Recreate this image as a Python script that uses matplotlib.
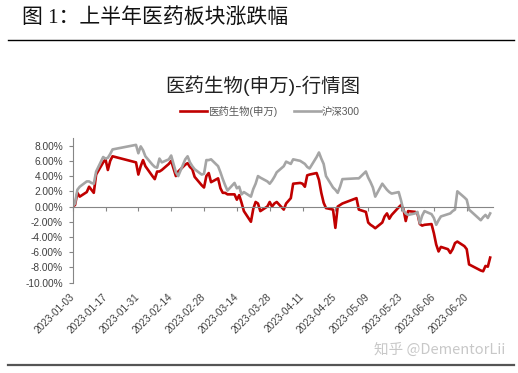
import numpy as np
import matplotlib
matplotlib.use("Agg")
import matplotlib.pyplot as plt
from matplotlib.lines import Line2D

plt.rcParams['font.family'] = ['Liberation Sans', 'Noto Sans CJK SC', 'DejaVu Sans']

# trading days of H1 2023 and cumulative change (%) since 2023-01-03
dates = [
    "2023-01-03", "2023-01-04", "2023-01-05", "2023-01-06", "2023-01-09", "2023-01-10",
    "2023-01-11", "2023-01-12", "2023-01-13", "2023-01-16", "2023-01-17", "2023-01-18",
    "2023-01-19", "2023-01-20", "2023-01-30", "2023-01-31", "2023-02-01", "2023-02-02",
    "2023-02-03", "2023-02-06", "2023-02-07", "2023-02-08", "2023-02-09", "2023-02-10",
    "2023-02-13", "2023-02-14", "2023-02-15", "2023-02-16", "2023-02-17", "2023-02-20",
    "2023-02-21", "2023-02-22", "2023-02-23", "2023-02-24", "2023-02-27", "2023-02-28",
    "2023-03-01", "2023-03-02", "2023-03-03", "2023-03-06", "2023-03-07", "2023-03-08",
    "2023-03-09", "2023-03-10", "2023-03-13", "2023-03-14", "2023-03-15", "2023-03-16",
    "2023-03-17", "2023-03-20", "2023-03-21", "2023-03-22", "2023-03-23", "2023-03-24",
    "2023-03-27", "2023-03-28", "2023-03-29", "2023-03-30", "2023-03-31", "2023-04-03",
    "2023-04-04", "2023-04-06", "2023-04-07", "2023-04-10", "2023-04-11", "2023-04-12",
    "2023-04-13", "2023-04-14", "2023-04-17", "2023-04-18", "2023-04-19", "2023-04-20",
    "2023-04-21", "2023-04-24", "2023-04-25", "2023-04-26", "2023-04-27", "2023-04-28",
    "2023-05-04", "2023-05-05", "2023-05-08", "2023-05-09", "2023-05-10", "2023-05-11",
    "2023-05-12", "2023-05-15", "2023-05-16", "2023-05-17", "2023-05-18", "2023-05-19",
    "2023-05-22", "2023-05-23", "2023-05-24", "2023-05-25", "2023-05-26", "2023-05-29",
    "2023-05-30", "2023-05-31", "2023-06-01", "2023-06-02", "2023-06-05", "2023-06-06",
    "2023-06-07", "2023-06-08", "2023-06-09", "2023-06-12", "2023-06-13", "2023-06-14",
    "2023-06-15", "2023-06-16", "2023-06-19", "2023-06-20", "2023-06-21", "2023-06-26",
    "2023-06-27", "2023-06-28", "2023-06-29", "2023-06-30",
]

pharma = [
    0.0, 0.2, 1.8, 1.3, 1.9, 2.6, 2.2, 1.8, 4.2, 5.8, 6.2, 4.8,
    6.0, 6.6, 5.8, 4.2, 5.3, 6.1, 5.3, 4.0, 3.6, 4.6, 4.6, 4.8,
    5.6, 6.0, 5.0, 4.0, 4.6, 5.5, 5.7, 5.2, 4.9, 3.9, 2.8, 2.5,
    4.0, 4.4, 3.2, 3.7, 2.4, 1.8, 1.8, 1.6, 1.6, 0.9, 1.5, 0.5,
    -0.6, -2.0, -0.3, 0.6, 0.4, -0.6, 0.0, 0.6, 0.0, 0.4, 0.6, -0.4,
    0.4, 1.1, 3.0, 3.1, 3.0, 2.6, 4.1, 4.2, 4.4, 3.5, 1.8, 0.5,
    -0.2, -0.4, -2.8, 0.0, 0.2, 0.4, 1.1, -0.4, -0.7, -2.1, -2.4, -2.6,
    -2.85, -2.1, -1.3, -0.9, -1.6, -1.1, -0.1, 0.2, -0.3, -1.9, -0.6, -0.7,
    -0.9, -2.3, -2.5, -2.4, -2.3, -3.5, -5.0, -5.9, -5.3, -5.6, -6.1, -5.6,
    -4.8, -4.6, -5.2, -5.6, -7.6, -8.4, -8.5, -7.8, -7.9, -6.7,
]

hs300 = [
    0.0, 0.4, 2.2, 2.6, 3.3, 3.3, 3.1, 3.0, 4.6, 6.5, 6.3, 6.4,
    6.9, 7.5, 8.1, 7.0, 7.9, 7.4, 6.6, 5.5, 5.2, 5.1, 6.3, 5.8,
    6.2, 6.7, 5.6, 4.5, 4.0, 6.2, 6.6, 5.8, 5.3, 4.9, 4.2, 4.3,
    6.1, 6.1, 6.2, 5.3, 4.5, 3.6, 2.8, 2.1, 3.1, 2.4, 2.6, 1.6,
    1.9, 1.3, 2.3, 3.0, 4.0, 3.8, 3.3, 3.0, 3.4, 3.9, 4.5, 5.3,
    5.9, 5.6, 6.2, 6.0, 5.8, 5.6, 5.2, 5.0, 6.5, 7.1, 6.3, 5.6,
    4.0, 2.5, 2.2, 1.8, 2.6, 3.6, 3.7, 3.7, 4.6, 3.8, 3.2, 2.5,
    1.3, 3.0, 2.6, 2.2, 1.9, 1.7, 1.9, 0.8, -0.5, -0.9, -1.1, -0.9,
    -0.7, -2.2, -1.2, -0.6, -1.0, -1.5, -2.4, -1.8, -1.3, -1.0, -0.9, -0.6,
    -0.4, 2.0, 1.2, 0.9, -0.4, -1.8, -1.4, -1.1, -1.5, -0.9,
]

labels = ["医药生物(申万)", "沪深300"]
tick_dates = ["2023-01-03", "2023-01-17", "2023-01-31", "2023-02-14", "2023-02-28",
              "2023-03-14", "2023-03-28", "2023-04-11", "2023-04-25", "2023-05-09",
              "2023-05-23", "2023-06-06", "2023-06-20"]
y_ticks = [-10, -8, -6, -4, -2, 0, 2, 4, 6, 8]

start = np.datetime64(dates[0])
x = (np.array(dates, dtype="datetime64[D]") - start).astype(int)
xt = (np.array(tick_dates, dtype="datetime64[D]") - start).astype(int)

fig = plt.figure(figsize=(5.18, 3.73), dpi=100)
ax = fig.add_axes([0.1403, 0.2421, 0.8105, 0.3879])

ax.plot(x, pharma, color="#C00000", lw=1.9, solid_joinstyle="round", label=labels[0])
ax.plot(x, hs300, color="#A5A5A5", lw=1.9, solid_joinstyle="round", label=labels[1])

ax.set_xlim(0, 179)
ax.set_ylim(-10, 9)

axis_col = "#868686"
for s in ["top", "right"]:
    ax.spines[s].set_visible(False)
ax.spines["left"].set_color(axis_col)
ax.spines["left"].set_linewidth(0.8)
ax.spines["bottom"].set_position(("data", 0))
ax.spines["bottom"].set_color(axis_col)
ax.spines["bottom"].set_linewidth(0.8)

ax.set_yticks(y_ticks)
ax.set_yticklabels(["%.2f%%" % v for v in y_ticks])
ax.tick_params(axis="y", direction="out", length=3, width=0.8, color=axis_col,
               labelsize=7.3, labelcolor="#404040", pad=4)
ax.set_xticks(xt)
ax.tick_params(axis="x", direction="out", length=3, width=0.8, color=axis_col,
               labelbottom=False)

# date labels sit below the plot area
sec = ax.secondary_xaxis("bottom")
sec.spines["bottom"].set_visible(False)
sec.set_xticks(xt)
sec.set_xticklabels(tick_dates)
sec.tick_params(axis="x", length=0, pad=9, labelsize=7.2, labelcolor="#404040")
for t in sec.get_xticklabels():
    t.set_rotation(45)
    t.set_ha("right")
    t.set_va("center")
    t.set_rotation_mode("anchor")

leg = ax.legend(loc="lower center", bbox_to_anchor=(0.47, 1.08), ncol=2, frameon=False,
                fontsize=7.5, handlelength=2.6, columnspacing=1.6, handletextpad=0.1)
for t in leg.get_texts():
    t.set_color("#595959")

fig.text(0.508, 0.769, "医药生物(申万)-行情图", ha="center", va="center",
         fontsize=14, color="#222222")

fig.text(0.042, 0.953, "图 1：上半年医药板块涨跌幅", ha="left", va="center",
         fontsize=15, color="#111111",
         family=["Liberation Serif", "Noto Sans CJK SC"])
fig.add_artist(Line2D([0.016, 0.992], [0.893, 0.893], color="black", lw=1.0))
fig.add_artist(Line2D([0.016, 0.992], [0.021, 0.021], color="#555555", lw=1.6))

fig.text(0.975, 0.062, "知乎 @DementorLii", ha="right", va="center",
         fontsize=10.5, color="#C8C8C8", family=["Noto Sans CJK SC", "DejaVu Sans"])

fig.savefig("out.png", dpi=100)
